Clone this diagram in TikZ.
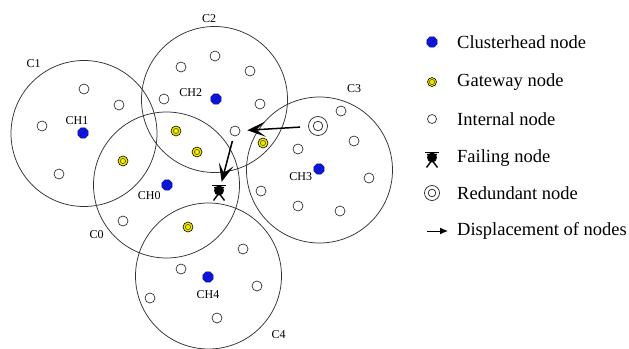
\documentclass[tikz,border=0pt]{standalone}
\usepackage{fontspec}
\setmainfont{Liberation Serif}
\usetikzlibrary{shapes.geometric,arrows.meta}
\definecolor{chblue}{RGB}{10,20,235}
\definecolor{chedge}{RGB}{20,20,90}
\definecolor{gwyellow}{RGB}{240,235,0}
\definecolor{gwring}{RGB}{90,80,0}
\begin{document}
\begin{tikzpicture}[x=1pt,y=-1pt,
  cluster/.style={circle,draw=black!80,line width=0.75pt,minimum size=146pt,inner sep=0pt},
  lbl/.style={font=\fontsize{12}{12}\selectfont,inner sep=0pt},
  legtext/.style={font=\fontsize{18.5}{20}\selectfont,inner sep=0pt,anchor=west},
  inode/.style={circle,draw=black!85,line width=0.65pt,fill=white,minimum size=10pt,inner sep=0pt},
  headnode/.style={regular polygon,regular polygon sides=8,fill=chblue,draw=chedge,line width=0.6pt,
    minimum size=11pt,inner sep=0pt,
    path picture={\draw[chedge,line width=0.6pt]
      ([xshift=-3pt,yshift=-3pt]path picture bounding box.center) --
      ([xshift=3pt,yshift=3pt]path picture bounding box.center);}},
  gwnode/.style={circle,fill=gwyellow,draw=black,line width=0.6pt,minimum size=10pt,inner sep=0pt,
    path picture={\draw[gwring,line width=0.6pt] (path picture bounding box.center) circle[radius=2.6pt];}},
  rednode/.style={circle,draw=black!85,line width=0.7pt,minimum size=19pt,inner sep=0pt,
    path picture={\draw[black!85,line width=0.7pt] (path picture bounding box.center) circle[radius=4.8pt];}},
  failnode/.style={rectangle,minimum width=16pt,minimum height=18pt,inner sep=0pt,
    path picture={
      \draw[line width=1.4pt] ([xshift=-4.5pt,yshift=5pt]path picture bounding box.center) --
        ([xshift=5.5pt,yshift=-8.5pt]path picture bounding box.center);
      \draw[line width=1.4pt] ([xshift=4.5pt,yshift=5pt]path picture bounding box.center) --
        ([xshift=-5.5pt,yshift=-8.5pt]path picture bounding box.center);
      \fill ([yshift=1.5pt]path picture bounding box.center) circle[radius=5pt];
      \draw[line width=1.8pt] ([xshift=-7pt,yshift=6.5pt]path picture bounding box.center) --
        ([xshift=7pt,yshift=6.5pt]path picture bounding box.center);}},
  move/.style={line width=1.5pt,-{Stealth[length=18pt,width=15pt,inset=9pt]}},
]
\useasboundingbox (0,0) rectangle (629,348);

% clusters
\node[cluster] (c1) at (84,133.5) {};
\node[cluster] (c2) at (214.5,99.5) {};
\node[cluster] (c0) at (166.5,185) {};
\node[cluster] (c3) at (319.5,170) {};
\node[cluster] (c4) at (208.5,276) {};

\node[lbl] (lc1) at (33.7,63.3) {C1};
\node[lbl] (lc2) at (209,19) {C2};
\node[lbl] (lc3) at (354,89) {C3};
\node[lbl] (lc0) at (96.7,234.3) {C0};
\node[lbl] (lc4) at (278.7,334.3) {C4};

% internal nodes
\foreach \x/\y [count=\i] in {84/89,119/105,42/126,59/174,
    215/56,181/67,250/71,164/99,260/104,
    123/221,
    341/111,354/141,298/149,369/178,261/191,298/206,340/211,
    243/249,181/269,257/286,150/298,217/318}
  \node[inode] (n\i) at (\x,\y) {};
\node[inode] (mv) at (235,131) {};

% gateway nodes
\foreach \x/\y [count=\i] in {176/131,197/152,123/161,263/143,188/227}
  \node[gwnode] (g\i) at (\x,\y) {};

% clusterheads
\node[headnode] (ch1) at (83,133) {};
\node[headnode] (ch2) at (216,99) {};
\node[headnode] (ch0) at (167,185) {};
\node[headnode] (ch3) at (319,169) {};
\node[headnode] (ch4) at (208,277) {};

\node[lbl] (lch1) at (77,121) {CH1};
\node[lbl] (lch2) at (190.7,93) {CH2};
\node[lbl] (lch0) at (149.3,196) {CH0};
\node[lbl] (lch3) at (300.8,176.7) {CH3};
\node[lbl] (lch4) at (208,295) {CH4};

% redundant and failing nodes
\node[rednode] (red) at (318,126) {};
\node[failnode] (fail) at (219,192) {};

% displacement
\draw[move, shorten <=8pt, shorten >=7pt] (red) -- (mv);
\draw[move, shorten <=5pt, shorten >=1pt] (mv) -- (fail);

% legend
\node[headnode] (k1) at (432,42) {};
\node[legtext] (t1) at (457,42) {Clusterhead node};
\node[gwnode, minimum size=9pt] (k2) at (432,82) {};
\node[legtext] (t2) at (457,82) {Gateway node};
\node[inode, minimum size=9pt] (k3) at (432,119) {};
\node[legtext] (t3) at (457,119) {Internal node};
\node[failnode] (k4) at (432,159) {};
\node[legtext] (t4) at (457,158) {Failing node};
\node[circle,draw=black!85,line width=0.7pt,minimum size=15pt,inner sep=0pt,
  path picture={\draw[black!85,line width=0.7pt] (path picture bounding box.center) circle[radius=3.8pt];}]
  (k5) at (432,193) {};
\node[legtext] (t5) at (457,193) {Redundant node};
\coordinate (k6a) at (427,231);
\coordinate (k6b) at (448,231);
\draw[line width=1pt,-{Latex[length=8pt,width=7pt]}] (k6a) -- (k6b);
\node[legtext] (t6) at (457,231) {Displacement of nodes};
\end{tikzpicture}
\end{document}
